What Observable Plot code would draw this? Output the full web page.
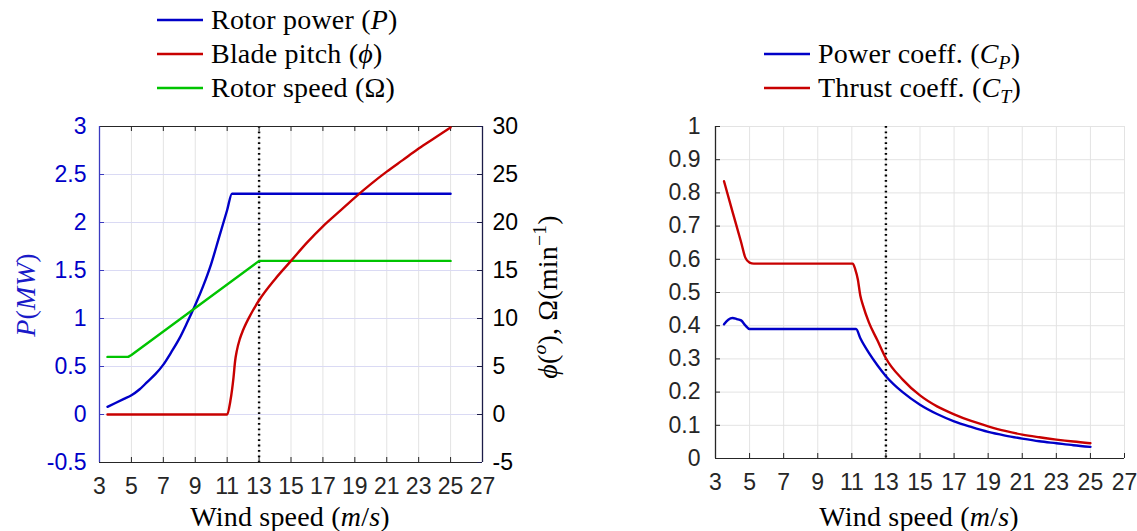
<!DOCTYPE html>
<html>
<head>
<meta charset="utf-8">
<script src="https://cdn.jsdelivr.net/npm/d3@7"></script>
<script src="https://cdn.jsdelivr.net/npm/@observablehq/plot@0.6"></script>
<style>
  body { margin: 0; background: #fff; }
  #wrap { position: relative; width: 1137px; height: 531px; overflow: hidden; background: #fff; }
  .layer { position: absolute; top: 0; }
  .serif { font-family: "Liberation Serif", "Times New Roman", serif; font-size: 28px; color: #000; white-space: nowrap; letter-spacing: 0.2px; }
  .leg { position: absolute; height: 34px; line-height: 34px; display: flex; align-items: center; }
  .leg svg { margin-right: 8px; }
  .lab { position: absolute; transform: translate(-50%, -50%); }
  .rot { position: absolute; transform: translate(-50%, -50%) rotate(-90deg); }
  sub, sup { font-size: 0.7em; line-height: 0; }
  sub { vertical-align: -0.3em; }
  sup { vertical-align: 0.55em; }
</style>
</head>
<body>
<div id="wrap">
  <div id="leftBase" class="layer" style="left:0"></div>
  <div id="leftOver" class="layer" style="left:0"></div>
  <div id="rightPanel" class="layer" style="left:570px"></div>
</div>
<script>
// ---------------- data ----------------
const xTicks = [3, 5, 7, 9, 11, 13, 15, 17, 19, 21, 23, 25, 27];
const powerTicks = [-0.5, 0, 0.5, 1, 1.5, 2, 2.5, 3];
const angleTicks = [-5, 0, 5, 10, 15, 20, 25, 30];
const coeffTicks = [0, 0.1, 0.2, 0.3, 0.4, 0.5, 0.6, 0.7, 0.8, 0.9, 1];
const ratedWind = [13];

// Rotor power P (MW)
const powerWind = [3.5, 4, 4.5, 5, 5.5, 6, 6.5, 7, 7.5, 8, 8.5, 9, 9.5, 10, 10.5, 11, 11.3, 25];
const powerMW   = [0.08, 0.12, 0.16, 0.20, 0.26, 0.34, 0.42, 0.52, 0.65, 0.79, 0.96, 1.14, 1.34, 1.57, 1.85, 2.13, 2.30, 2.30];

// Blade pitch phi (deg)
const pitchWind = [3.5, 11.0, 11.2, 11.4, 11.5, 11.6, 11.8, 12, 12.5, 13, 14, 15, 16, 17, 18, 19, 20, 21, 22, 23, 24, 25];
const pitchDeg  = [0, 0, 1.4, 3.9, 5.6, 6.6, 7.9, 8.8, 10.5, 11.9, 14.1, 16.0, 17.9, 19.6, 21.1, 22.6, 24.0, 25.3, 26.5, 27.7, 28.8, 29.9];

// Rotor speed Omega (rpm)
const speedWind = [3.5, 4.8, 5.0, 13, 25];
const speedRpm  = [6, 6, 6.2, 16, 16];

// Power coefficient Cp
const cpWind = [3.5, 3.75, 4, 4.25, 4.5, 4.75, 5, 11.25, 11.5, 12, 12.5, 13, 14, 15, 16, 17, 18, 19, 20, 21, 22, 23, 24, 25];
const cpVal  = [0.404, 0.418, 0.423, 0.420, 0.416, 0.401, 0.390, 0.390, 0.362, 0.318, 0.281, 0.248, 0.199, 0.162, 0.134, 0.112, 0.095, 0.080, 0.069, 0.060, 0.052, 0.046, 0.040, 0.035];

// Thrust coefficient Ct
const ctWind = [3.5, 4, 4.5, 4.75, 5, 5.25, 11.05, 11.2, 11.35, 11.5, 11.65, 12, 12.5, 13, 14, 15, 16, 17, 18, 19, 20, 21, 22, 23, 24, 25];
const ctVal  = [0.835, 0.743, 0.652, 0.605, 0.590, 0.587, 0.587, 0.570, 0.540, 0.490, 0.462, 0.41, 0.356, 0.302, 0.237, 0.19, 0.157, 0.133, 0.113, 0.097, 0.083, 0.072, 0.064, 0.057, 0.051, 0.046];

// ---------------- styles ----------------
const BLUE = "#0000c8", RED = "#c80000", GREEN = "#00c400";
const AXBLUE = "#3a3ac0", NAVY = "#1c1c48", DARK = "#262626";
const LINEW = 2.4;
const zip = (xs, ys) => xs.map((x, i) => ({x, y: ys[i]}));
const fmt = d => String(+d.toFixed(2));
const tickFont = {fontFamily: "'Liberation Sans', Arial, Helvetica, sans-serif", fontSize: "23px", background: "transparent", overflow: "visible"};

// ---------------- left panel geometry ----------------
const LW = 570, H = 531, LML = 99, LMR = 88, LMT = 126, LMB = 69;
const LPW = LW - LML - LMR, LPH = H - LMT - LMB;

const leftBase = Plot.plot({
  width: LW, height: H, marginLeft: LML, marginRight: LMR, marginTop: LMT, marginBottom: LMB,
  x: {domain: [3, 27]}, y: {domain: [-0.5, 3]},
  style: tickFont,
  marks: [
    Plot.gridX(xTicks, {stroke: "#e3e3e3", strokeOpacity: 1}),
    Plot.gridY(powerTicks, {stroke: "#dadaf4", strokeOpacity: 1}),
    Plot.ruleX(ratedWind, {stroke: "#000", strokeWidth: 2.4, strokeDasharray: "1.8,3.6"}),
    Plot.line(zip(powerWind, powerMW), {x: "x", y: "y", stroke: BLUE, strokeWidth: LINEW, curve: "monotone-x"}),
    Plot.axisX({ticks: xTicks, tickSize: 0, tickPadding: 15, fill: DARK, label: null}),
    Plot.axisY({ticks: powerTicks, tickSize: 0, tickPadding: 13, fill: BLUE, label: null, tickFormat: fmt}),
    Plot.ruleX(xTicks, {x: d => d, insetTop: LPH - 5, stroke: DARK}),
    Plot.ruleX(xTicks, {x: d => d, insetBottom: LPH - 5, stroke: DARK}),
    Plot.ruleY(powerTicks, {y: d => d, insetRight: LPW - 5, stroke: AXBLUE}),
    Plot.ruleY([-0.5], {stroke: DARK}),
    Plot.ruleY([3], {stroke: DARK}),
    Plot.ruleX([3], {stroke: AXBLUE, strokeWidth: 1.3})
  ]
});
document.getElementById("leftBase").append(leftBase);

const leftOver = Plot.plot({
  width: LW, height: H, marginLeft: LML, marginRight: LMR, marginTop: LMT, marginBottom: LMB,
  x: {domain: [3, 27], axis: null}, y: {domain: [-5, 30], axis: null},
  style: tickFont,
  marks: [
    Plot.line(zip(speedWind, speedRpm), {x: "x", y: "y", stroke: GREEN, strokeWidth: LINEW}),
    Plot.line(zip(pitchWind, pitchDeg), {x: "x", y: "y", stroke: RED, strokeWidth: LINEW, curve: "monotone-x"}),
    Plot.axisY({ticks: angleTicks, anchor: "right", tickSize: 0, tickPadding: 10, fill: "#000", label: null, tickFormat: fmt}),
    Plot.ruleY(angleTicks, {y: d => d, insetLeft: LPW - 5, stroke: NAVY}),
    Plot.ruleX([27], {stroke: NAVY, strokeWidth: 1.3})
  ]
});
document.getElementById("leftOver").append(leftOver);

// ---------------- right panel ----------------
const RW = 567, RML = 145, RMR = 13, RMT = 126, RMB = 73;
const RPW = RW - RML - RMR, RPH = H - RMT - RMB;
const rightPanel = Plot.plot({
  width: RW, height: H, marginLeft: RML, marginRight: RMR, marginTop: RMT, marginBottom: RMB,
  x: {domain: [3, 27]}, y: {domain: [0, 1]},
  style: tickFont,
  marks: [
    Plot.gridX(xTicks, {stroke: "#e3e3e3", strokeOpacity: 1}),
    Plot.gridY(coeffTicks, {stroke: "#e3e3e3", strokeOpacity: 1}),
    Plot.ruleX(ratedWind, {stroke: "#000", strokeWidth: 2.4, strokeDasharray: "1.8,3.6"}),
    Plot.line(zip(cpWind, cpVal), {x: "x", y: "y", stroke: BLUE, strokeWidth: LINEW, curve: "monotone-x"}),
    Plot.line(zip(ctWind, ctVal), {x: "x", y: "y", stroke: RED, strokeWidth: LINEW, curve: "monotone-x"}),
    Plot.axisX({ticks: xTicks, tickSize: 0, tickPadding: 15, fill: DARK, label: null}),
    Plot.axisY({ticks: coeffTicks, tickSize: 0, tickPadding: 15, fill: DARK, label: null, tickFormat: fmt}),
    Plot.ruleX(xTicks, {x: d => d, insetTop: RPH - 5, stroke: DARK}),
    Plot.ruleY(coeffTicks, {y: d => d, insetRight: RPW - 5, stroke: DARK}),
    Plot.ruleY([0], {stroke: DARK}),
    Plot.ruleX([3], {stroke: DARK, strokeWidth: 1.3})
  ]
});
document.getElementById("rightPanel").append(rightPanel);

// ---------------- legends & labels (HTML) ----------------
const wrap = document.getElementById("wrap");
function legendRow(x, yc, color, html) {
  const d = document.createElement("div");
  d.className = "leg serif";
  d.style.left = x + "px";
  d.style.top = (yc - 17) + "px";
  d.innerHTML = `<svg width="46" height="6"><line x1="0" y1="3" x2="46" y2="3" stroke="${color}" stroke-width="2.6"/></svg><span>${html}</span>`;
  wrap.append(d);
}
const leftLegend = [
  [BLUE, "Rotor power (<i>P</i>)"],
  [RED, "Blade pitch (<i>ϕ</i>)"],
  [GREEN, "Rotor speed (Ω)"]
];
leftLegend.forEach(([c, t], i) => legendRow(157, 20 + 34 * i, c, t));
const rightLegend = [
  [BLUE, "Power coeff. (<i>C</i><sub><i>P</i></sub>)"],
  [RED, "Thrust coeff. (<i>C</i><sub><i>T</i></sub>)"]
];
rightLegend.forEach(([c, t], i) => legendRow(764, 54 + 34 * i, c, t));

function label(cls, x, y, html, color) {
  const d = document.createElement("div");
  d.className = cls + " serif";
  d.style.left = x + "px";
  d.style.top = y + "px";
  if (color) d.style.color = color;
  d.innerHTML = html;
  wrap.append(d);
}
label("lab", 290, 517, "Wind speed (<i>m</i>/<i>s</i>)");
label("lab", 919, 517, "Wind speed (<i>m</i>/<i>s</i>)");
label("rot", 26, 295, "<i>P</i>(<i>MW</i>)", "#1a1ac8");
label("rot", 548, 297, "<i>ϕ</i>(<sup><i>o</i></sup>), Ω(min<sup>−1</sup>)");
</script>
</body>
</html>
